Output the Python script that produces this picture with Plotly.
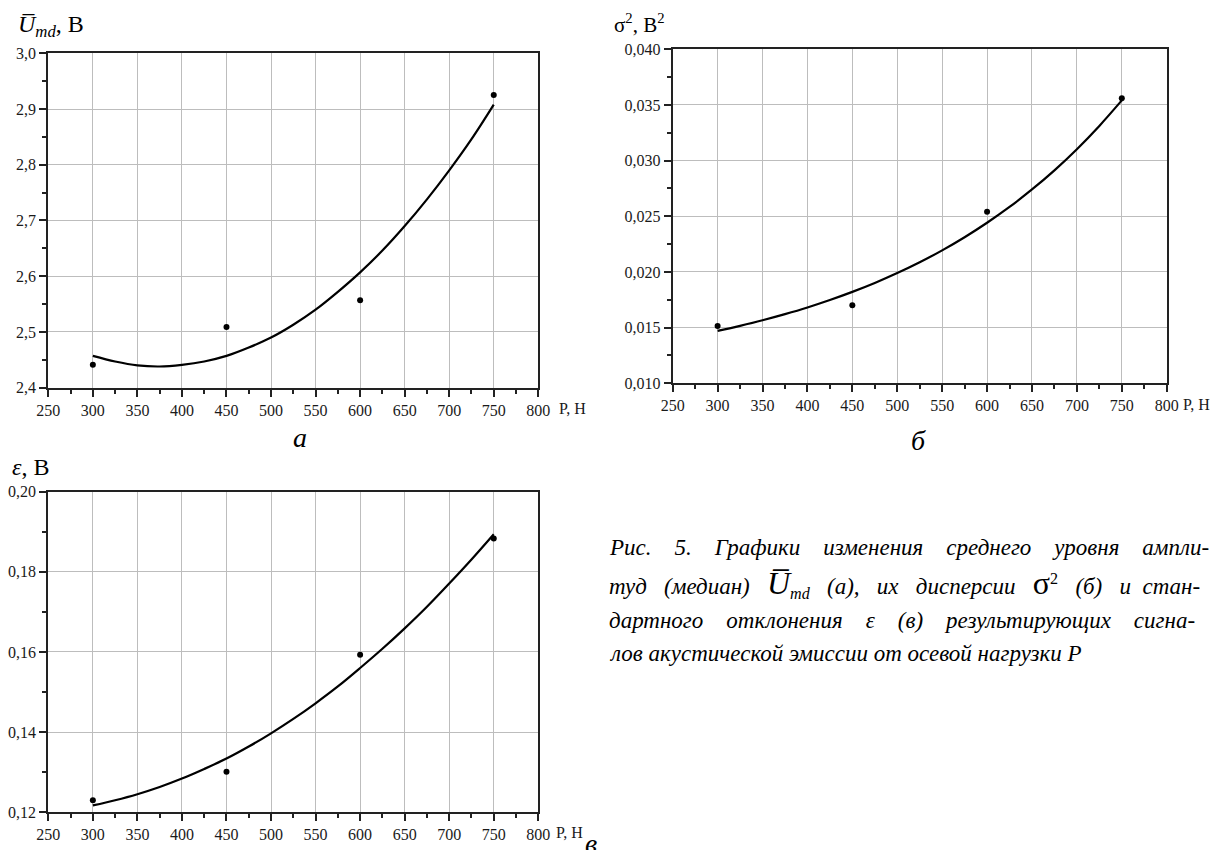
import plotly.graph_objects as go

# ---- data ----
P_pts = [300, 450, 600, 750]
U_pts = [2.441, 2.509, 2.557, 2.925]
S_pts = [0.01514, 0.0170, 0.0254, 0.0356]
E_pts = [0.1230, 0.1301, 0.1593, 0.1883]

P_fit = [300, 325, 350, 375, 400, 425, 450, 475, 500, 525, 550, 575, 600, 625, 650, 675, 700, 725, 750]
U_fit = [2.457, 2.447, 2.440, 2.438, 2.441, 2.447, 2.457, 2.472, 2.490, 2.513, 2.540, 2.572, 2.607,
         2.646, 2.690, 2.738, 2.790, 2.846, 2.908]
S_fit = [0.01470, 0.01516, 0.01566, 0.01621, 0.01681, 0.01748, 0.01821, 0.01901, 0.01990, 0.02087,
         0.02194, 0.02312, 0.02442, 0.02584, 0.02741, 0.02913, 0.03103, 0.03312, 0.03541]
E_fit = [0.1217, 0.1230, 0.1245, 0.1263, 0.1284, 0.1308, 0.1334, 0.1364, 0.1397, 0.1433, 0.1472,
         0.1514, 0.1560, 0.1608, 0.1659, 0.1713, 0.1771, 0.1831, 0.1894]

x_ticks = [250, 300, 350, 400, 450, 500, 550, 600, 650, 700, 750, 800]

SERIF = "Liberation Serif"
fig = go.Figure()

panels = [
    ("x", "y", U_fit, U_pts),
    ("x2", "y2", S_fit, S_pts),
    ("x3", "y3", E_fit, E_pts),
]
for xa, ya, fit, pts in panels:
    fig.add_trace(go.Scatter(x=P_fit, y=fit, mode="lines", line=dict(color="black", width=2.2, shape="spline"),
                             xaxis=xa, yaxis=ya, showlegend=False, hoverinfo="skip"))
    fig.add_trace(go.Scatter(x=P_pts, y=pts, mode="markers", marker=dict(color="black", size=6),
                             xaxis=xa, yaxis=ya, showlegend=False))

tickfont = dict(family=SERIF, size=16, color="#1a1a1a")

def xaxis(domain, anchor):
    return dict(domain=domain, anchor=anchor, range=[250, 800], tickvals=x_ticks, automargin=False,
                showgrid=True, gridcolor="#bdbdbd", gridwidth=1, zeroline=False,
                showline=True, linecolor="#222", linewidth=2, mirror=True,
                ticks="outside", ticklen=7, tickwidth=1.5, tickcolor="#222",
                minor=dict(dtick=25, ticks="outside", ticklen=4, tickwidth=1.5, tickcolor="#222", showgrid=False),
                tickfont=tickfont, fixedrange=True)

def yaxis(domain, anchor, rng, dtick, fmt):
    return dict(domain=domain, anchor=anchor, range=rng, dtick=dtick, tick0=rng[0], tickformat=fmt,
                automargin=False,
                showgrid=True, gridcolor="#bdbdbd", gridwidth=1, zeroline=False,
                showline=True, linecolor="#222", linewidth=2, mirror=True,
                ticks="outside", ticklen=7, tickwidth=1.5, tickcolor="#222",
                minor=dict(dtick=dtick / 2, ticks="outside", ticklen=4, tickwidth=1.5, tickcolor="#222", showgrid=False),
                tickfont=tickfont, fixedrange=True)

fig.update_layout(
    template="none",
    width=1215, height=850, margin=dict(l=0, r=0, t=0, b=0, autoexpand=False),
    paper_bgcolor="white", plot_bgcolor="white", separators=", ",
    font=dict(family=SERIF),
    xaxis=xaxis([0.03975, 0.44305], "y"),
    yaxis=yaxis([0.5439, 0.9373], "x", [2.4, 3.0], 0.1, ".1f"),
    xaxis2=xaxis([0.55366, 0.96025], "y2"),
    yaxis2=yaxis([0.5491, 0.9420], "x2", [0.010, 0.040], 0.005, ".3f"),
    xaxis3=xaxis([0.03975, 0.44305], "y3"),
    yaxis3=yaxis([0.0444, 0.4215], "x3", [0.12, 0.20], 0.02, ".2f"),
)

def px(x):
    return x / 1215

def py(y):
    return 1 - y / 850

ann = []
# axis unit labels
for x, y in [(557, 408), (1181, 404), (554, 832)]:
    ann.append(dict(x=px(x), y=py(y), xref="paper", yref="paper", text="P, Н", showarrow=False,
                    xanchor="left", yanchor="middle", font=dict(family=SERIF, size=16, color="#1a1a1a")))
# y-axis titles
ann.append(dict(x=px(16), y=py(26), xref="paper", yref="paper", showarrow=False, xanchor="left", yanchor="middle",
                text="<i>U̅</i><sub><i>md</i></sub>, В", font=dict(family=SERIF, size=24, color="black")))
ann.append(dict(x=px(612), y=py(24), xref="paper", yref="paper", showarrow=False, xanchor="left", yanchor="middle",
                text="σ<sup>2</sup>, В<sup>2</sup>", font=dict(family=SERIF, size=21, color="black")))
ann.append(dict(x=px(10), y=py(467), xref="paper", yref="paper", showarrow=False, xanchor="left", yanchor="middle",
                text="<i>ε</i>, В", font=dict(family=SERIF, size=24, color="black")))
# panel letters
for t, x, y in [("а", 300, 437), ("б", 918, 440), ("в", 591, 843)]:
    ann.append(dict(x=px(x), y=py(y), xref="paper", yref="paper", text="<i>" + t + "</i>", showarrow=False,
                    xanchor="center", yanchor="middle", font=dict(family=SERIF, size=28, color="black")))

# caption (justified by hand with non-breaking spaces)
S = "\u00a0"
def gap(n):
    return S * n

cap = [
    ("<i>" + gap(4).join(["Рис.", "5.", "Графики", "изменения", "среднего", "уровня", "ампли-"]) + "</i>", 547),
    ("<i>туд" + gap(3) + "(медиан)" + gap(3) + "</i><span style='font-size:32px'><i>U̅</i></span><sub><i>md</i></sub>"
     "<i>" + gap(3) + "(а)," + gap(3) + "их" + gap(3) + "дисперсии" + gap(3) + "</i>"
     "<span style='font-size:32px'>σ</span><sup>2</sup><i>" + gap(3) + "(б)" + gap(3) + "и" + gap(2) + "стан-</i>", 583),
    ("<i>" + gap(4).join(["дартного", "отклонения", "ε", "(в)", "результирующих", "сигна-"]) + "</i>", 620),
    ("<i>лов акустической эмиссии от осевой нагрузки P</i>", 653),
]
for t, y in cap:
    ann.append(dict(x=px(607), y=py(y), xref="paper", yref="paper", text=t, showarrow=False,
                    xanchor="left", yanchor="middle", font=dict(family=SERIF, size=23, color="black")))

fig.update_layout(annotations=ann)
fig.write_html("out.html")
